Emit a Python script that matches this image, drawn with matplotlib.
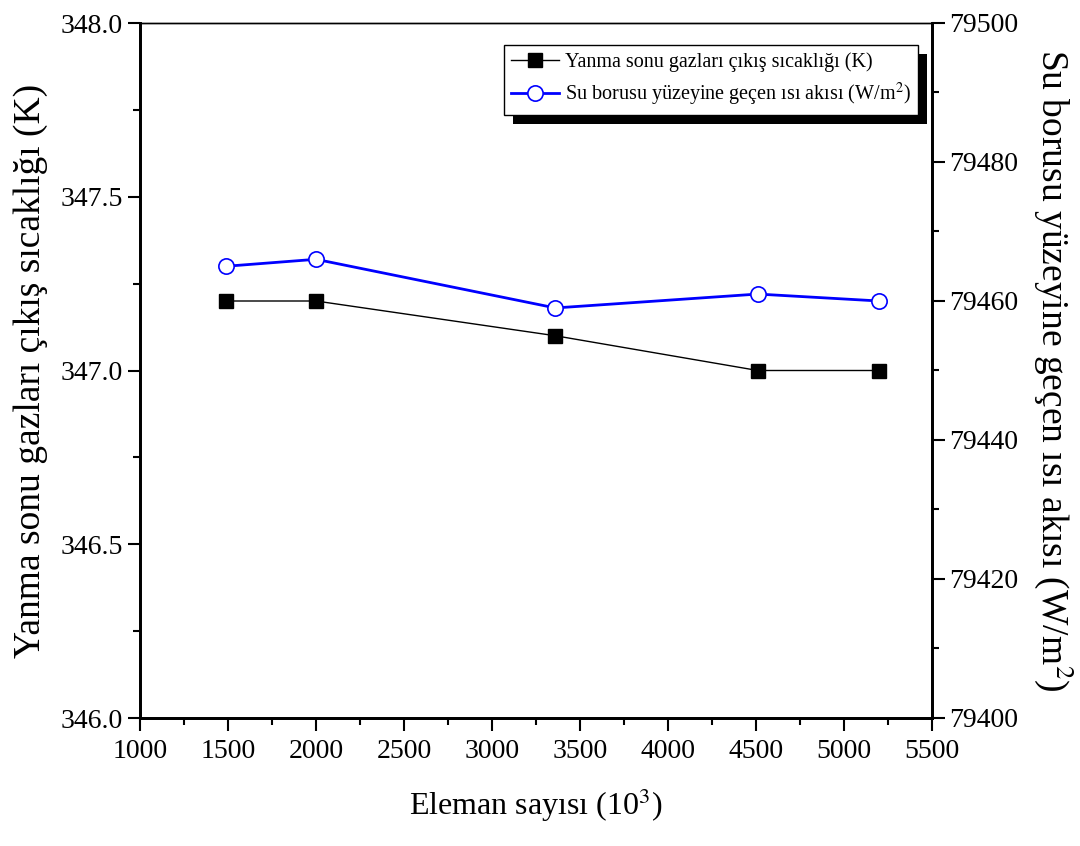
import matplotlib
matplotlib.use("Agg")
from matplotlib import pyplot as plt
from matplotlib.ticker import MultipleLocator, FormatStrFormatter
from matplotlib.patches import Rectangle

plt.rcParams["font.family"] = ["Liberation Serif", "DejaVu Serif"]
plt.rcParams["mathtext.fontset"] = "stix"

# element count (x 10^3)
eleman = [1490, 2000, 3360, 4510, 5200]
# exhaust gas outlet temperature (K)
sicaklik = [347.2, 347.2, 347.1, 347.0, 347.0]
# heat flux to the water tube surface (W/m^2)
isi_akisi = [79465, 79466, 79459, 79461, 79460]

fig = plt.figure(figsize=(10.8, 8.46), dpi=100)
ax1 = fig.add_axes([140 / 1080, 1 - 718 / 846, 792 / 1080, 695 / 846])
ax2 = ax1.twinx()

l1, = ax1.plot(eleman, sicaklik, color="black", lw=1, marker="s", ms=10,
               mfc="black", mec="black", label="Yanma sonu gazları çıkış sıcaklığı (K)")
l2, = ax2.plot(eleman, isi_akisi, color="blue", lw=2, marker="o", ms=11,
               mfc="white", mec="blue", mew=1.2,
               label="Su borusu yüzeyine geçen ısı akısı (W/m$^{2}$)")

ax1.set_xlim(1000, 5500)
ax1.set_ylim(346.0, 348.0)
ax2.set_ylim(79400, 79500)

ax1.xaxis.set_major_locator(MultipleLocator(500))
ax1.xaxis.set_minor_locator(MultipleLocator(250))
ax1.yaxis.set_major_locator(MultipleLocator(0.5))
ax1.yaxis.set_minor_locator(MultipleLocator(0.25))
ax2.yaxis.set_major_locator(MultipleLocator(20))
ax2.yaxis.set_minor_locator(MultipleLocator(10))
ax1.yaxis.set_major_formatter(FormatStrFormatter("%.1f"))

for ax in (ax1, ax2):
    ax.tick_params(which="major", direction="out", length=9, width=1.5, labelsize=20)
    ax.tick_params(which="minor", direction="out", length=5, width=1.5)
    for side in ("left", "right", "bottom"):
        ax.spines[side].set_linewidth(2)
    ax.spines["top"].set_linewidth(1)
ax1.tick_params(axis="x", which="both", top=False)
ax1.tick_params(axis="y", which="both", right=False)
ax1.tick_params(axis="x", pad=6)

ax1.set_xlabel("Eleman sayısı (10$^{3}$)", fontsize=23, labelpad=16)
ax1.set_ylabel("Yanma sonu gazları çıkış sıcaklığı (K)", fontsize=27, labelpad=9)
ax2.set_ylabel("Su borusu yüzeyine geçen ısı akısı (W/m$^{2}$)", fontsize=27,
               rotation=270, labelpad=41)

leg = ax2.legend(handles=[l1, l2], loc="upper right", bbox_to_anchor=(0.982, 0.968),
                 fontsize=14.5, frameon=True, fancybox=False, framealpha=1,
                 borderpad=0.35, handlelength=2.4, handletextpad=0.3, labelspacing=0.45,
                 borderaxespad=0)
leg.get_frame().set_edgecolor("black")
leg.get_frame().set_linewidth(1)
leg.set_zorder(6)

# solid drop shadow behind the legend box
fig.canvas.draw()
bb = leg.get_window_extent().transformed(fig.transFigure.inverted())
dx, dy = 9 / 1080, 9 / 846
shadow = Rectangle((bb.x0 + dx, bb.y0 - dy), bb.width, bb.height, transform=fig.transFigure,
                   facecolor="black", edgecolor="none", zorder=5, clip_on=False)
ax2.add_artist(shadow)

fig.savefig("out.png", dpi=100)
